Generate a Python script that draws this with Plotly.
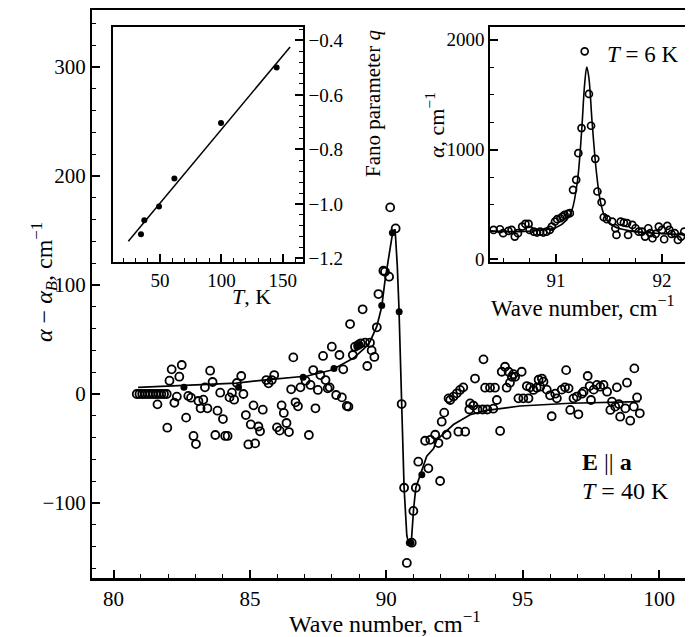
import plotly.graph_objects as go

# ---------------- Main panel (T = 40 K) ----------------
main_x = [80.85, 80.95, 81.05, 81.15, 81.25, 81.35, 81.45, 81.55, 81.65, 81.75, 81.85, 81.95,
          81.61, 81.97, 82.05, 82.13, 82.23, 82.32, 82.41, 82.50, 82.66, 82.74, 82.84, 82.93,
          83.02, 83.11, 83.19, 83.29, 83.44, 83.35, 83.54, 83.63, 83.73, 83.81, 83.91, 84.01,
          84.09, 84.18, 84.25, 84.34, 84.42, 84.52, 84.68, 84.76, 84.85, 84.94, 85.19, 85.03,
          85.13, 85.31, 85.37, 85.47, 85.60, 85.68, 85.80, 85.89, 85.99, 86.09, 86.16, 86.24,
          86.34, 86.43, 86.51, 86.59, 86.67, 86.76, 86.85, 87.04, 87.16, 87.22, 87.32, 87.40,
          87.49, 87.58, 87.68, 87.77, 87.85, 87.92,
          88.00, 88.28, 88.42, 88.67, 88.77, 88.85, 88.97, 89.06, 89.22, 89.30, 89.40, 89.13,
          89.46, 89.56, 89.65, 89.71, 89.89, 89.95, 90.10, 90.14, 90.34, 88.16, 88.37, 88.55,
          88.61,
          90.56, 90.65, 90.75, 90.93, 90.99, 91.08,
          91.17, 91.54, 91.97, 91.42, 91.61, 91.79, 91.91, 92.21, 92.03, 92.12, 92.64, 92.89,
          92.34, 92.46, 92.28, 92.58, 92.70, 92.82, 93.04, 93.19, 93.34, 93.53, 93.70, 93.92,
          93.07, 93.25, 93.56, 93.62, 93.80, 93.98, 94.05, 94.17, 94.41, 94.53, 94.23, 94.35,
          94.48, 94.60, 94.72, 94.66, 94.96, 94.84, 95.02, 95.21, 95.15, 95.27, 95.39, 95.51,
          95.58, 95.70, 95.76, 95.64, 95.88, 96.00, 96.19, 96.06, 96.25, 96.43, 96.55, 96.68,
          96.59, 96.74, 97.04, 96.86, 96.98, 97.17, 97.23, 97.38, 97.45, 97.50, 97.60, 97.72,
          97.84, 97.96, 98.09, 98.21, 98.39, 98.57, 98.76, 98.94, 99.07, 98.82, 99.09, 99.19,
          99.29, 98.27, 98.52, 98.45]
main_y = [0, 0, 0, 0, 0, 0, 0, 0, 0, 0, 0, 0,
          -9.5, -30.9, 12.2, 22.6, -8.0, -2.4, 15.9, 26.6, -21.7, -1.8, -3.4, -38.5,
          -45.9, -6.4, -13.1, -5.2, -13.1, 6.1, 21.4, 11.0, -37.6, -15.3, 1.2, -23.0,
          -38.5, -38.5, -3.1, 1.2, -5.2, 10.1, 16.5, 0.0, -19.3, -46.3, -45.3, -27.9,
          -10.4, -29.8, -34.2, -14.4, 12.8, 9.8, 12.8, 17.4, -30.6, -33.6, -10.4, -17.4,
          -26.6, -34.9, 4.3, 33.6, -7.6, -11.3, 6.1, 12.2, -37.6, 8.3, 22.0, -13.1,
          3.7, 17.4, 34.9, 12.8, 5.2, 6.1,
          43.4, 35.8, 22.6, 64.2, 35.8, 43.4, 45.0, 46.5, 47.1, 25.7, 47.1, 77.7,
          40.0, 34.0, 61.2, 91.7, 113.1, 112.2, 107.6, 171.2, 151.9, -0.9, -3.1, -11.0,
          -11.6,
          -9.2, -86.0, -155.0, -136.4, -107.3, -86.0,
          -62.1, -68.2, -79.8, -42.9, -42.0, -37.4, -45.0, -37.4, -25.4, -17.1, -34.6, -34.6,
          -5.5, -2.4, -4.0, 0.6, 3.7, 6.1, -14.2, -10.6, -14.2, -14.2, -14.2, -13.5,
          -8.6, 14.2, 31.8, 5.8, 5.8, 5.8, -5.5, -33.9, 5.8, 10.4, 20.4, 25.0,
          20.4, 15.8, 15.8, 18.2, 20.4, -4.0, -4.0, -4.0, 7.3, 6.1, 3.7, 5.8,
          13.1, 14.2, 11.3, 6.7, 4.0, -1.2, 0.3, -20.4, -4.0, 4.0, 6.1, 5.2,
          21.9, -14.6, -18.6, -4.0, -2.4, 0.3, 2.1, 16.5, 7.3, -5.5, 4.0, 8.3,
          6.7, 8.3, 2.1, -14.6, -11.6, -20.8, -13.2, -24.5, -11.6, 10.4, 23.5, -3.1,
          -17.7, -7.0, -9.2, 6.1]

solid_x = [82.58, 84.58, 86.95, 88.08, 88.92, 89.04, 89.83, 90.22, 90.47, 90.84, 90.90, 91.30]
solid_y = [6.1, 6.1, 15.3, 23.5, 43.4, 44.9, 81.3, 148.0, 75.5, -136.4, -136.4, -74.0]

fit_x = [80.9, 82.5, 84.5, 85.6, 87.1, 88.0, 88.8, 89.2, 89.4, 89.65, 89.83, 89.95, 90.1,
         90.23, 90.32, 90.40, 90.46, 90.50, 90.54, 90.58, 90.65, 90.75, 90.83, 90.92, 91.0,
         91.08, 91.3, 91.48, 91.73, 91.85, 92.2, 92.46, 93.07, 93.68, 94.9, 96.73, 99.3]
fit_y = [6, 7.5, 10, 13, 16.5, 22, 33, 42, 48, 62, 80, 104, 126,
         148, 151, 118, 80, 40, 5, -25, -86, -130, -138, -134, -105,
         -86, -70, -57, -50, -42, -34, -28, -19, -15, -11, -8.5, -7]

# ---------------- Inset: Fano parameter vs T ----------------
fano_T = [34.5, 37.2, 49.2, 61.7, 99.7, 145.0]
fano_q = [-1.111, -1.060, -1.009, -0.907, -0.703, -0.500]
fano_line_T = [24.2, 156.0]
fano_line_q = [-1.137, -0.424]

# ---------------- Inset: T = 6 K absorption ----------------
low_x = [90.41, 90.47, 90.50, 90.55, 90.58, 90.61, 90.64, 90.68, 90.71, 90.74, 90.75, 90.79,
         90.82, 90.85, 90.88, 90.91, 90.94, 90.96, 90.99, 91.01, 91.04, 91.06, 91.08, 91.11,
         91.13, 91.16, 91.19, 91.21, 91.24, 91.27, 91.31, 91.33, 91.37, 91.39, 91.43, 91.45,
         91.48, 91.53, 91.56, 91.57, 91.61, 91.64, 91.67, 91.68, 91.72, 91.75, 91.78, 91.81,
         91.84, 91.87, 91.89, 91.91, 91.94, 91.97, 92.00, 92.02, 92.05, 92.07, 92.09, 92.12,
         92.15, 92.18, 92.21]
low_a = [269, 275, 239, 260, 269, 208, 239, 299, 323, 323, 269, 253,
         245, 253, 245, 253, 269, 299, 345, 366, 375, 390, 405, 415,
         421, 633, 724, 967, 1195, 1893, 1505, 1216, 915, 618, 521, 384,
         366, 345, 284, 223, 345, 335, 330, 223, 314, 284, 253, 253,
         208, 284, 239, 193, 232, 299, 269, 184, 305, 269, 232, 239,
         178, 208, 253]
low_fit_x = [90.38, 90.7, 91.0, 91.1, 91.15, 91.2, 91.24, 91.27, 91.29, 91.31, 91.34, 91.38,
             91.42, 91.47, 91.55, 91.7, 92.0, 92.24]
low_fit_a = [260, 255, 290, 360, 450, 700, 1150, 1600, 1750, 1650, 1250, 800,
             520, 370, 300, 260, 235, 225]

SERIF = "Liberation Serif"
BLACK = "black"

fig = go.Figure()

fig.add_trace(go.Scatter(x=fit_x, y=fit_y, mode="lines", line=dict(color=BLACK, width=1.7),
                         xaxis="x", yaxis="y", hoverinfo="skip"))
fig.add_trace(go.Scatter(x=main_x, y=main_y, mode="markers",
                         marker=dict(symbol="circle-open", size=8, color=BLACK, line=dict(width=1.8)),
                         xaxis="x", yaxis="y"))
fig.add_trace(go.Scatter(x=solid_x, y=solid_y, mode="markers",
                         marker=dict(symbol="circle", size=7, color=BLACK),
                         xaxis="x", yaxis="y"))

fig.add_trace(go.Scatter(x=fano_line_T, y=fano_line_q, mode="lines", line=dict(color=BLACK, width=1.5),
                         xaxis="x2", yaxis="y2"))
fig.add_trace(go.Scatter(x=fano_T, y=fano_q, mode="markers",
                         marker=dict(symbol="circle", size=6, color=BLACK),
                         xaxis="x2", yaxis="y2"))

fig.add_trace(go.Scatter(x=low_fit_x, y=low_fit_a, mode="lines", line=dict(color=BLACK, width=1.6, shape="spline"),
                         xaxis="x3", yaxis="y3"))
fig.add_trace(go.Scatter(x=low_x, y=low_a, mode="markers",
                         marker=dict(symbol="circle-open", size=7, color=BLACK, line=dict(width=1.7)),
                         xaxis="x3", yaxis="y3"))

# The page body has an 8 px margin; offsets below compensate so the
# plotting area sits where it does in the reference picture.
OFF = 8
PLOT_L, PLOT_T, PLOT_R, PLOT_B = 92, 10, 693, 578     # page pixels
L = PLOT_L - OFF
T = PLOT_T - OFF
pw = PLOT_R - PLOT_L
ph = PLOT_B - PLOT_T
W = L + pw
B = 59
H = T + ph + B


def px(xp):
    return (xp - PLOT_L) / pw


def py(yp):
    return (PLOT_B - yp) / ph


def axis_common(size, lw=2):
    return dict(showline=True, linecolor=BLACK, linewidth=lw, ticks="inside", tickcolor=BLACK,
                tickwidth=1.5, ticklen=8, showgrid=False, zeroline=False,
                tickfont=dict(family=SERIF, size=size, color=BLACK))


def minor(dt, t0=0):
    return dict(dtick=dt, tick0=t0, ticks="inside", ticklen=4, tickcolor=BLACK, tickwidth=1.2)


fig.update_layout(
    width=W, height=H, margin=dict(l=L, r=0, t=T, b=B),
    paper_bgcolor="white", plot_bgcolor="white", showlegend=False,
    xaxis=dict(domain=[0, 1], range=[79.21, 101.24], dtick=5, tick0=80, mirror=True,
               minor=minor(1, 80), anchor="y", **axis_common(21, 2.5)),
    yaxis=dict(domain=[0, 1], range=[-168.8, 352.3], dtick=100, tick0=0, mirror=False,
               minor=minor(20, 0), anchor="x", **axis_common(21, 2)),
    xaxis2=dict(domain=[px(113), px(303)], range=[11.7, 166.5], dtick=50, tick0=0, mirror=True,
                minor=minor(10, 0), anchor="y2", **axis_common(19, 1.6)),
    yaxis2=dict(domain=[py(262), py(27)], range=[-1.213, -0.351], dtick=0.2, tick0=-1.2, side="right",
                tickformat=".1f", mirror=True, minor=minor(0.04, -1.2),
                anchor="x2", **axis_common(19, 1.6)),
    xaxis3=dict(domain=[px(490), px(687)], range=[90.376, 92.236], dtick=1, tick0=91, mirror=True,
                minor=minor(0.25, 91), anchor="y3", **axis_common(19, 1.6)),
    yaxis3=dict(domain=[py(262), py(27)], range=[-23, 2114], dtick=1000, tick0=0, mirror=True,
                minor=minor(250, 0), anchor="x3", **axis_common(19, 1.6)),
)

ann = [
    dict(text="Wave number, cm<sup>−1</sup>", x=px(385), y=py(622), size=24, angle=0, xa="center"),
    dict(text="<i>α</i> − <i>α</i><sub><i>B</i></sub>, cm<sup>−1</sup>", x=px(44), y=py(282), size=24, angle=-90, xa="center"),
    dict(text="<i>T</i>, K", x=px(251), y=py(296), size=22, angle=0, xa="center"),
    dict(text="Fano parameter <i>q</i>", x=px(373), y=py(104), size=21, angle=-90, xa="center"),
    dict(text="<i>α</i>, cm<sup>−1</sup>", x=px(435), y=py(125), size=22, angle=-90, xa="center"),
    dict(text="Wave number, cm<sup>−1</sup>", x=px(583), y=py(306), size=23, angle=0, xa="center"),
    dict(text="<i>T</i> = 6 K", x=px(643), y=py(55), size=23, angle=0, xa="center"),
    dict(text="<b>E</b> || <b>a</b>", x=px(580), y=py(462), size=24, angle=0, xa="left"),
    dict(text="<i>T</i> = 40 K", x=px(580), y=py(491), size=24, angle=0, xa="left"),
]
for a in ann:
    fig.add_annotation(text=a["text"], x=a["x"], y=a["y"], xref="paper", yref="paper",
                       xanchor=a["xa"], yanchor="middle", textangle=a["angle"], showarrow=False,
                       font=dict(family=SERIF, size=a["size"], color=BLACK))

fig.write_html("out.html")
